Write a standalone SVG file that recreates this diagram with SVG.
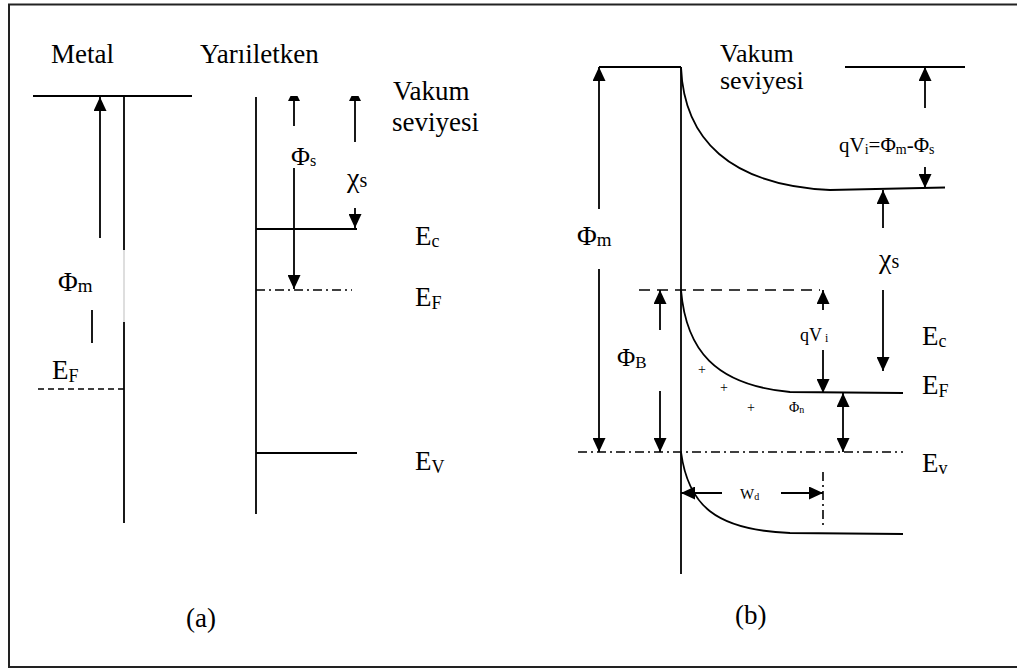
<svg xmlns="http://www.w3.org/2000/svg" width="1017" height="669" viewBox="0 0 1017 669">
<defs>
<style>
.t{font-family:"Liberation Serif","Times New Roman","DejaVu Serif",serif;fill:#000}
.b{font-size:27px}
.ln{stroke:#000;stroke-width:1.8;fill:none}
.ar{stroke:#000;stroke-width:1.8;fill:none;marker-end:url(#ah)}
.dar{stroke:#000;stroke-width:1.8;fill:none;marker-end:url(#ah);marker-start:url(#ahs)}
.dash{stroke:#000;stroke-width:1.6;fill:none;stroke-dasharray:6 4}
.ldash{stroke:#000;stroke-width:1.6;fill:none;stroke-dasharray:11 7}
.dd{stroke:#000;stroke-width:1.6;fill:none;stroke-dasharray:9 4 2 4}
</style>
<marker id="ah" markerUnits="userSpaceOnUse" markerWidth="14" markerHeight="13" refX="14" refY="6.5" orient="auto"><path d="M0,0 L14,6.5 L0,13 Z" fill="#000"/></marker>
<marker id="ahs" markerUnits="userSpaceOnUse" markerWidth="14" markerHeight="13" refX="14" refY="6.5" orient="auto-start-reverse"><path d="M0,0 L14,6.5 L0,13 Z" fill="#000"/></marker>
</defs>
<rect x="0" y="0" width="1017" height="669" fill="#fff"/>
<rect id="frame" x="9" y="4.5" width="1020" height="662.5" fill="none" stroke="#222" stroke-width="2"/>

<g id="panel-a">
<g id="a-metal">
<text class="t b" x="51" y="63">Metal</text>
<line class="ln" x1="33" y1="96" x2="192" y2="96"/>
<line class="ln" x1="124" y1="96" x2="124" y2="250"/>
<line x1="124" y1="250" x2="124" y2="322" stroke="#c8c8c8" stroke-width="1.2"/>
<line class="ln" x1="124" y1="322" x2="124" y2="523"/>
<line class="dash" x1="38" y1="389" x2="124" y2="389"/>
<text class="t b" x="52" y="379">E<tspan font-size="18" dy="3">F</tspan></text>
<text class="t b" x="58" y="291">Φ<tspan font-size="19" dy="1">m</tspan></text>
</g>
<g id="a-semi">
<text class="t b" x="200" y="63">Yarıiletken</text>
<line class="ln" x1="256" y1="97" x2="256" y2="514"/>
<line class="ln" x1="256" y1="229" x2="357" y2="229"/>
<line class="dd" x1="256" y1="290" x2="352" y2="290"/>
<line class="ln" x1="256" y1="453" x2="357" y2="453"/>
<text class="t b" x="393" y="100">Vakum</text>
<text class="t b" x="392" y="131">seviyesi</text>
<text class="t b" x="415" y="245">E<tspan font-size="18" dy="2">c</tspan></text>
<text class="t b" x="415" y="306">E<tspan font-size="18" dy="3">F</tspan></text>
<text class="t b" x="415" y="470">E<tspan font-size="18" dy="3">V</tspan></text>
<text class="t" font-size="26" x="291" y="165">Φ<tspan font-size="16" dy="1">s</tspan></text>
<text class="t" font-size="28" x="347" y="187">χ<tspan font-size="20">s</tspan></text>
</g>
<text id="label-a" class="t b" x="186" y="627">(a)</text>
</g>

<g id="panel-b">
<g id="b-metal">
<line class="ln" x1="599" y1="67" x2="681" y2="67"/>
<line class="ln" x1="681" y1="67" x2="681" y2="574"/>
<text class="t b" x="577" y="245">Φ<tspan font-size="19" dy="1">m</tspan></text>
<text class="t" font-size="25" x="617" y="366">Φ<tspan font-size="17" dy="2">B</tspan></text>
</g>
<g id="b-semi">
<text class="t" font-size="26" x="720" y="62">Vakum</text>
<text class="t" font-size="26" x="720" y="89">seviyesi</text>
<line class="ln" x1="845" y1="67" x2="965" y2="67"/>
<path class="ln" d="M681,67 C684,140 730,185 830,190 L945,187.5"/>
<path class="ln" d="M681,290 C686,350 715,385 790,392 L903,393"/>
<path class="ln" d="M681,452 C688,505 715,530 790,533 L903,534"/>
<line class="ldash" x1="639" y1="290" x2="820" y2="290"/>
<line class="dd" x1="578" y1="452" x2="903" y2="452"/>
<line class="dd" x1="823" y1="472" x2="823" y2="528"/>
<text class="t" font-size="21" x="839" y="152">qV<tspan font-size="14" dy="2">i</tspan><tspan dy="-2">=Φ</tspan><tspan font-size="14" dy="2">m</tspan><tspan dy="-2">-Φ</tspan><tspan font-size="14" dy="2">s</tspan></text>
<text class="t" font-size="28" x="879" y="268">χ<tspan font-size="20">s</tspan></text>
<text class="t" font-size="18" x="800" y="341">qV<tspan font-size="12" dx="3" dy="1">i</tspan></text>
<text class="t" font-size="14" x="789" y="412">Φ<tspan font-size="10" dy="1">n</tspan></text>
<text class="t" font-size="14" text-anchor="middle" x="702" y="374">+</text>
<text class="t" font-size="14" text-anchor="middle" x="724" y="392">+</text>
<text class="t" font-size="14" text-anchor="middle" x="751" y="412">+</text>
<text class="t" font-size="15" x="740" y="499">W<tspan font-size="10" dy="1">d</tspan></text>
<text class="t b" x="922" y="345">E<tspan font-size="18" dy="2">c</tspan></text>
<text class="t b" x="922" y="394">E<tspan font-size="18" dy="3">F</tspan></text>
<text class="t b" x="922" y="472">E<tspan font-size="18" dy="2">v</tspan></text>
</g>
<text id="label-b" class="t b" x="735" y="624">(b)</text>
</g>

<g id="connectors">
<line class="ar" x1="100" y1="238" x2="100" y2="97"/>
<line class="ln" x1="92" y1="310" x2="92" y2="343"/>
<line class="ln" x1="294" y1="126" x2="294" y2="100"/>
<path d="M288,101 L300,101 L297.5,96 L290.5,96 Z" fill="#000"/>
<line class="ar" x1="294" y1="168" x2="294" y2="289"/>
<line class="ln" x1="355" y1="142" x2="355" y2="100"/>
<path d="M349,101 L361,101 L358.5,96 L351.5,96 Z" fill="#000"/>
<line class="ar" x1="355" y1="208" x2="355" y2="228"/>
<line class="ar" x1="599" y1="209" x2="599" y2="67"/>
<line class="ar" x1="599" y1="269" x2="599" y2="452"/>
<line class="ar" x1="925" y1="108" x2="925" y2="67"/>
<line class="ar" x1="925" y1="167" x2="925" y2="188"/>
<line class="ar" x1="883" y1="228" x2="883" y2="190"/>
<line class="ar" x1="883" y1="290" x2="883" y2="371"/>
<line class="ar" x1="660" y1="330" x2="660" y2="290"/>
<line class="ar" x1="660" y1="391" x2="660" y2="452"/>
<line class="ar" x1="823" y1="310" x2="823" y2="290"/>
<line class="ar" x1="823" y1="350" x2="823" y2="393"/>
<line class="dar" x1="843" y1="393" x2="843" y2="452"/>
<line class="ar" x1="722" y1="493" x2="681" y2="493"/>
<line class="ar" x1="781" y1="493" x2="823" y2="493"/>
</g>
</svg>
